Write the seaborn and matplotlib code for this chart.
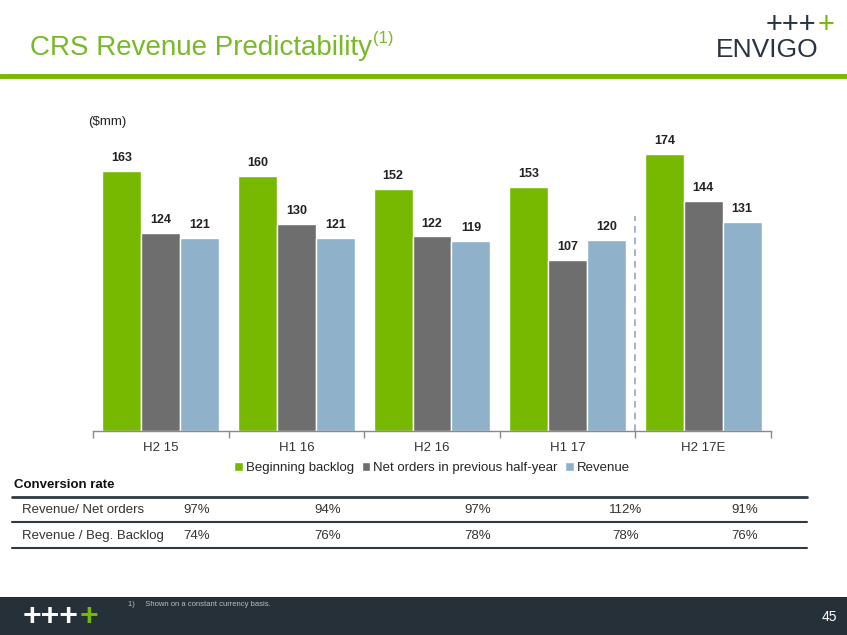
import pandas as pd
import matplotlib
matplotlib.use("Agg")
import matplotlib.pyplot as plt
from matplotlib.patches import Rectangle
from matplotlib.lines import Line2D
import seaborn as sns

periods = ["H2 15", "H1 16", "H2 16", "H1 17", "H2 17E"]
series_names = ["Beginning backlog", "Net orders in previous half-year", "Revenue"]
beginning_backlog = [163, 160, 152, 153, 174]
net_orders = [124, 130, 122, 107, 144]
revenue = [121, 121, 119, 120, 131]

row_labels = ["Revenue/ Net orders", "Revenue / Beg. Backlog"]
rev_net_orders = ["97%", "94%", "97%", "112%", "91%"]
rev_beg_backlog = ["74%", "76%", "78%", "78%", "76%"]

GREEN = "#76b900"
GRAY = "#6e6e6e"
BLUE = "#8fb1c9"
DARK = "#263039"

sns.set_theme(style="white")
plt.rcParams["font.family"] = ["Liberation Sans", "DejaVu Sans"]

rows = []
for name, vals in zip(series_names, [beginning_backlog, net_orders, revenue]):
    for p, v in zip(periods, vals):
        rows.append({"period": p, "series": name, "value": v})
df = pd.DataFrame(rows)

fig = plt.figure(figsize=(8.47, 6.35), dpi=100)
ax = fig.add_axes([93 / 847, 1 - 431 / 635, 678 / 847, 291 / 635])

sns.barplot(data=df, x="period", y="value", hue="series", order=periods,
            hue_order=series_names, palette=[GREEN, GRAY, BLUE],
            width=0.86, saturation=1, ax=ax, legend=True)

for cont in ax.containers:
    ax.bar_label(cont, fmt="%d", padding=5, fontsize=9, fontweight="bold", color="#222222")

ax.set_xlim(-0.5, 4.5)
ax.set_ylim(0, 182.5)
ax.set_xlabel("")
ax.set_ylabel("")
ax.set_yticks([])
for s in ["top", "right", "left"]:
    ax.spines[s].set_visible(False)
ax.spines["bottom"].set_color("#8a8a8a")
ax.spines["bottom"].set_linewidth(1)
ax.set_xticks(range(len(periods)))
ax.set_xticklabels(periods, fontsize=9.5, color="#333333")
ax.set_xticks([i - 0.5 for i in range(len(periods) + 1)], minor=True)
ax.tick_params(axis="x", which="major", length=0, pad=8)
ax.tick_params(axis="x", which="minor", length=5, color="#8a8a8a", width=1, bottom=True)

# estimate divider
ax.plot([3.5, 3.5], [0, 135], ls=(0, (4, 3)), color="#8fa9c4", lw=1.2)

ax.legend(loc="upper center", bbox_to_anchor=(0.5, -0.088), ncol=3, frameon=False,
          fontsize=9.5, handlelength=0.65, handleheight=0.65, handletextpad=0.2,
          columnspacing=0.6, borderaxespad=0)

renderer = fig.canvas.get_renderer()


def text_after(t, s, dy_px, **kw):
    # place a text right after another one
    t.draw(renderer)
    bb = t.get_window_extent(renderer)
    return fig.text(bb.x1 / fig.bbox.width + 1 / 847, t.get_position()[1] + dy_px / 635, s, **kw)


# header
title = fig.text(30 / 847, 1 - 48 / 635, "CRS Revenue Predictability", fontsize=20,
                 color="#78b928", va="center", ha="left")
text_after(title, "(1)", 9, fontsize=12, color="#78b928", va="center", ha="left")
fig.add_artist(Line2D([0, 1], [1 - 76 / 635, 1 - 76 / 635], color="#76b900", lw=3.5))
logo = fig.text(766 / 847, 1 - 25 / 635, "+++", fontsize=21, color="#2a3440", ha="left", va="center")
text_after(logo, "+", 0, fontsize=21, color="#76b900", ha="left", va="center")
fig.text(716 / 847, 1 - 50 / 635, "ENVIGO", fontsize=19, color="#2a3440", ha="left", va="center")
fig.text(88 / 847, 1 - 122 / 635, "($mm)", fontsize=9.5, color="#222222", va="center")

# conversion table
fig.text(14 / 847, 1 - 485 / 635, "Conversion rate", fontsize=9.5, fontweight="bold",
         color="#111111", va="center")
for y, lw in [(497, 2), (522, 1.5), (548, 1.5)]:
    fig.add_artist(Line2D([12 / 847, 807 / 847], [1 - y / 635, 1 - y / 635],
                          color="#2f3a44", lw=lw))
col_x = [197, 328, 478, 626, 745]
for y, label, vals in [(510, row_labels[0], rev_net_orders), (536, row_labels[1], rev_beg_backlog)]:
    fig.text(22 / 847, 1 - y / 635, label, fontsize=9.5, color="#333333", va="center")
    for x, v in zip(col_x, vals):
        fig.text(x / 847, 1 - y / 635, v, fontsize=9.5, color="#333333", va="center", ha="center")

# footer
fig.add_artist(Rectangle((0, 0), 1, 38 / 635, transform=fig.transFigure,
                         facecolor=DARK, edgecolor="none"))
flogo = fig.text(23 / 847, 1 - 617 / 635, "+++", fontsize=23, fontweight="bold",
                 color="white", va="center", ha="left")
text_after(flogo, "+", 0, fontsize=23, fontweight="bold", color="#76b900", va="center", ha="left")
fig.text(128 / 847, 1 - 604 / 635, "1)     Shown on a constant currency basis.", fontsize=5.5,
         color="#b8bec4", va="center")
fig.text(837 / 847, 1 - 617 / 635, "45", fontsize=10, color="white", va="center", ha="right")

fig.savefig("out.png", dpi=100)
